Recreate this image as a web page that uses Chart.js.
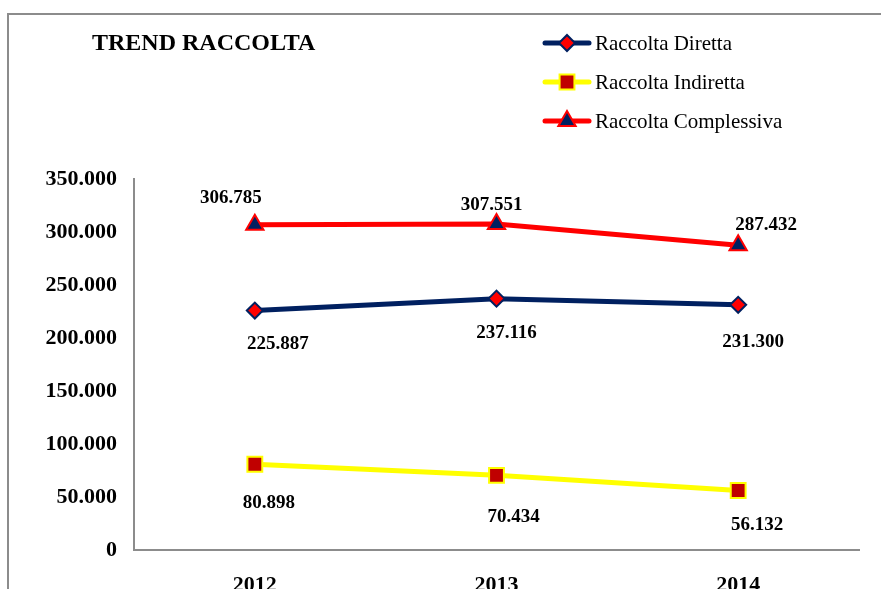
<!DOCTYPE html>
<html lang="it">
<head>
  <meta charset="UTF-8">
  <title>Trend Raccolta</title>
  <script src="https://cdn.jsdelivr.net/npm/chart.js"></script>
  <style>
    html, body { margin: 0; padding: 0; overflow: hidden; background: #fff; }
  </style>
</head>
<body>
  <canvas id="trendChart" width="881" height="610"></canvas>

  <script>
    const years = ['2012', '2013', '2014'];
    const raccoltaDiretta = [225887, 237116, 231300];
    const raccoltaIndiretta = [80898, 70434, 56132];
    const raccoltaComplessiva = [306785, 307551, 287432];
    const yTicks = [0, 50000, 100000, 150000, 200000, 250000, 300000, 350000];

    // label offsets from each point (moved by hand in the original sheet)
    const labelOffsets = [
      [[23, 34], [10, 34], [15, 37]],
      [[14, 39], [17, 42], [19, 35]],
      [[-24, -27], [-5, -19], [28, -20]]
    ];

    const fmt = v => v === 0 ? '0' : String(v).replace(/\B(?=(\d{3})+(?!\d))/g, '.');
    const serif = "'Liberation Serif', 'Times New Roman', serif";

    function marker(ctx, style, x, y, r, fill, stroke, bw) {
      ctx.save();
      ctx.fillStyle = fill;
      ctx.strokeStyle = stroke;
      ctx.lineWidth = bw;
      ctx.beginPath();
      if (style === 'rectRot') {
        ctx.moveTo(x, y - r); ctx.lineTo(x + r, y); ctx.lineTo(x, y + r); ctx.lineTo(x - r, y);
      } else if (style === 'rect') {
        const s = r * Math.SQRT1_2;
        ctx.rect(x - s, y - s, 2 * s, 2 * s);
      } else {
        ctx.moveTo(x, y - r);
        ctx.lineTo(x + Math.sin(2 * Math.PI / 3) * r, y + r / 2);
        ctx.lineTo(x - Math.sin(2 * Math.PI / 3) * r, y + r / 2);
      }
      ctx.closePath();
      ctx.fill();
      ctx.stroke();
      ctx.restore();
    }

    const decorPlugin = {
      id: 'decor',
      beforeDraw(chart) {
        const ctx = chart.ctx;
        ctx.save();
        ctx.fillStyle = '#fff';
        ctx.fillRect(0, 0, chart.width, chart.height);
        ctx.strokeStyle = '#8c8c8c';
        ctx.lineWidth = 2;
        ctx.beginPath();
        ctx.moveTo(8, chart.height + 5);
        ctx.lineTo(8, 14);
        ctx.lineTo(chart.width + 5, 14);
        ctx.stroke();
        ctx.restore();
      },
      afterDatasetsDraw(chart) {
        const ctx = chart.ctx;
        ctx.save();
        // data labels
        ctx.font = 'bold 19px ' + serif;
        ctx.fillStyle = '#000';
        ctx.textAlign = 'center';
        ctx.textBaseline = 'middle';
        chart.data.datasets.forEach((ds, di) => {
          chart.getDatasetMeta(di).data.forEach((pt, i) => {
            const off = labelOffsets[di][i];
            ctx.fillText(fmt(ds.data[i]), pt.x + off[0], pt.y + off[1]);
          });
        });

        // title
        ctx.font = 'bold 24px ' + serif;
        ctx.textAlign = 'left';
        ctx.fillText('TREND RACCOLTA', 92, 44);

        // legend
        ctx.font = '21px ' + serif;
        chart.data.datasets.forEach((ds, di) => {
          const y = 43 + di * 39;
          ctx.strokeStyle = ds.borderColor;
          ctx.lineWidth = 5;
          ctx.lineCap = 'round';
          ctx.beginPath();
          ctx.moveTo(545, y);
          ctx.lineTo(589, y);
          ctx.stroke();
          marker(ctx, ds.pointStyle, 567, y, ds.pointRadius, ds.pointBackgroundColor, ds.pointBorderColor, ds.pointBorderWidth);
          ctx.fillStyle = '#000';
          ctx.fillText(ds.label, 595, y + 1);
        });
        ctx.restore();
      }
    };

    const ctx = document.getElementById('trendChart').getContext('2d');
    new Chart(ctx, {
      type: 'line',
      data: {
        labels: years,
        datasets: [
          {
            label: 'Raccolta Diretta',
            data: raccoltaDiretta,
            borderColor: '#002060',
            borderWidth: 5,
            pointStyle: 'rectRot',
            pointRadius: 8,
            pointBackgroundColor: '#ff0000',
            pointBorderColor: '#002060',
            pointBorderWidth: 2
          },
          {
            label: 'Raccolta Indiretta',
            data: raccoltaIndiretta,
            borderColor: '#ffff00',
            borderWidth: 5,
            pointStyle: 'rect',
            pointRadius: 10.5,
            pointBackgroundColor: '#c00000',
            pointBorderColor: '#ffff00',
            pointBorderWidth: 2
          },
          {
            label: 'Raccolta Complessiva',
            data: raccoltaComplessiva,
            borderColor: '#ff0000',
            borderWidth: 5,
            pointStyle: 'triangle',
            pointRadius: 10,
            pointBackgroundColor: '#002060',
            pointBorderColor: '#ff0000',
            pointBorderWidth: 2
          }
        ]
      },
      options: {
        responsive: false,
        animation: false,
        events: [],
        layout: { padding: { left: 0, top: 179, right: 22, bottom: 0 } },
        plugins: {
          legend: { display: false },
          title: { display: false },
          tooltip: { enabled: false }
        },
        scales: {
          x: {
            offset: true,
            grid: { display: false, drawTicks: false },
            border: { display: true, color: '#8c8c8c', width: 2 },
            ticks: { color: '#000', padding: 22, font: { family: serif, size: 22, weight: 'bold' } },
            afterFit(scale) { scale.height = 60; }
          },
          y: {
            min: 0,
            max: 350000,
            afterBuildTicks(scale) { scale.ticks = yTicks.map(v => ({ value: v })); },
            grid: { display: false, drawTicks: false },
            border: { display: true, color: '#8c8c8c', width: 2 },
            ticks: {
              color: '#000',
              padding: 17,
              font: { family: serif, size: 22, weight: 'bold' },
              callback: v => fmt(v)
            },
            afterFit(scale) { scale.width = 134; }
          }
        }
      },
      plugins: [decorPlugin]
    });
  </script>
</body>
</html>
